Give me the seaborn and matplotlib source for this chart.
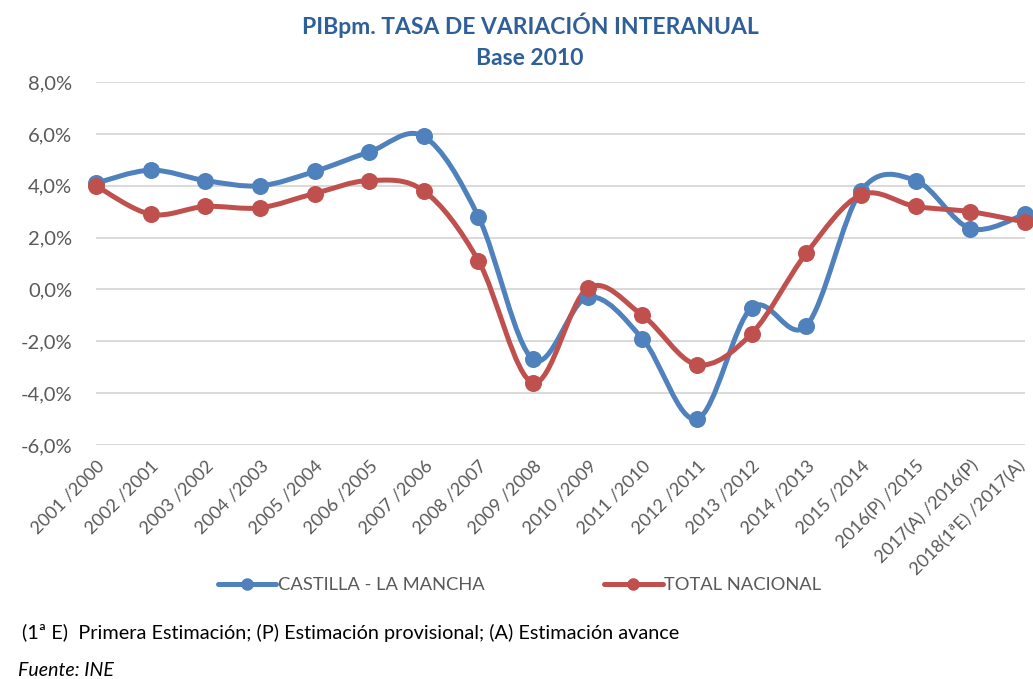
import numpy as np
import matplotlib
matplotlib.use("Agg")
import matplotlib.pyplot as plt
import seaborn as sns
from matplotlib.path import Path
from matplotlib.patches import PathPatch
from matplotlib.lines import Line2D
from matplotlib.ticker import FuncFormatter

periodos = ["2001 /2000", "2002 /2001", "2003 /2002", "2004 /2003", "2005 /2004",
            "2006 /2005", "2007 /2006", "2008 /2007", "2009 /2008", "2010 /2009",
            "2011 /2010", "2012 /2011", "2013 /2012", "2014 /2013", "2015 /2014",
            "2016(P) /2015", "2017(A) /2016(P)", "2018(1ªE) /2017(A)"]
clm = [4.1, 4.6, 4.2, 4.0, 4.55, 5.3, 5.9, 2.8, -2.7, -0.3,
       -1.9, -5.0, -0.7, -1.4, 3.8, 4.2, 2.35, 2.9]
nacional = [4.0, 2.9, 3.2, 3.15, 3.7, 4.2, 3.8, 1.1, -3.6, 0.05,
            -1.0, -2.9, -1.7, 1.4, 3.65, 3.2, 3.0, 2.6]

AZUL = "#4F81BD"
ROJO = "#C0504D"
GRIS = "#595959"

sns.set_theme(style="white")
plt.rcParams["font.family"] = ["Lato", "DejaVu Sans"]

fig = plt.figure(figsize=(10.33, 6.79), dpi=100)
ax = fig.add_axes([0.0929, 0.3446, 0.8993, 0.5346])


def curva_suave(xs, ys):
    # curva tipo "linea suavizada" de Excel (Catmull-Rom -> Bezier)
    pts = np.column_stack([xs, ys]).astype(float)
    n = len(pts)
    verts = [pts[0]]
    codes = [Path.MOVETO]
    for i in range(n - 1):
        p0 = pts[i - 1] if i > 0 else pts[i]
        p1 = pts[i]
        p2 = pts[i + 1]
        p3 = pts[i + 2] if i + 2 < n else pts[i + 1]
        c1 = p1 + (p2 - p0) / 6.0
        c2 = p2 - (p3 - p1) / 6.0
        verts += [c1, c2, p2]
        codes += [Path.CURVE4] * 3
    return Path(verts, codes)


x = np.arange(len(periodos))
for serie, color in [(clm, AZUL), (nacional, ROJO)]:
    patch = PathPatch(curva_suave(x, serie), facecolor="none", edgecolor=color,
                      lw=3.6, capstyle="round", joinstyle="round", zorder=3,
                      clip_on=False)
    ax.add_patch(patch)
    sns.scatterplot(x=x, y=serie, ax=ax, color=color, s=150, edgecolor=color,
                    linewidth=0, zorder=4, clip_on=False)

ax.set_xlim(0, len(periodos) - 1)
ax.set_ylim(-6, 8)
ax.set_yticks(np.arange(-6, 9, 2))
ax.yaxis.set_major_formatter(FuncFormatter(lambda v, p: f"{v:.1f}%".replace(".", ",")))
ax.set_xticks(x)
# la ultima etiqueta va aparte, algo desplazada para que no quede cortada
ax.set_xticklabels(periodos[:-1] + [""], rotation=45, ha="right", va="top",
                   rotation_mode="anchor")
ax.annotate(periodos[-1], xy=(x[-1], 0), xycoords=ax.get_xaxis_transform(),
            xytext=(-6, -9), textcoords="offset points", rotation=45, ha="right",
            va="top", rotation_mode="anchor", fontsize=13.0, color=GRIS,
            annotation_clip=False)

ax.grid(axis="y", color="#D9D9D9", lw=1.4)
ax.grid(axis="x", visible=False)
for s in ax.spines.values():
    s.set_visible(False)
ax.tick_params(axis="y", length=0, pad=17, labelsize=14.5, labelcolor=GRIS)
ax.tick_params(axis="x", length=0, pad=9, labelsize=13.0, labelcolor=GRIS)

fig.text(0.513, 0.963, "PIBpm. TASA DE VARIACIÓN INTERANUAL", ha="center", va="center",
         fontsize=16.5, fontweight="bold", color="#2F5F98")
fig.text(0.513, 0.914, "Base 2010", ha="center", va="center",
         fontsize=16.5, fontweight="bold", color="#2F5F98")

handles = [Line2D([], [], color=AZUL, lw=3.6, marker="o", markersize=8),
           Line2D([], [], color=ROJO, lw=3.6, marker="o", markersize=8)]
fig.legend(handles, ["CASTILLA - LA MANCHA", "TOTAL NACIONAL"], loc="center",
           bbox_to_anchor=(0.503, 0.138), ncol=2, frameon=False, fontsize=13.2,
           labelcolor=GRIS, handlelength=3.2, handletextpad=0.1, columnspacing=6.5)

fig.text(0.021, 0.068, "(1ª E)  Primera Estimación; (P) Estimación provisional; (A) Estimación avance",
         ha="left", va="center", fontsize=14.3, color="black")
fig.text(0.017, 0.013, "Fuente: INE", ha="left", va="center", fontsize=14,
         style="italic", color="black")

fig.savefig("out.png", dpi=100)
